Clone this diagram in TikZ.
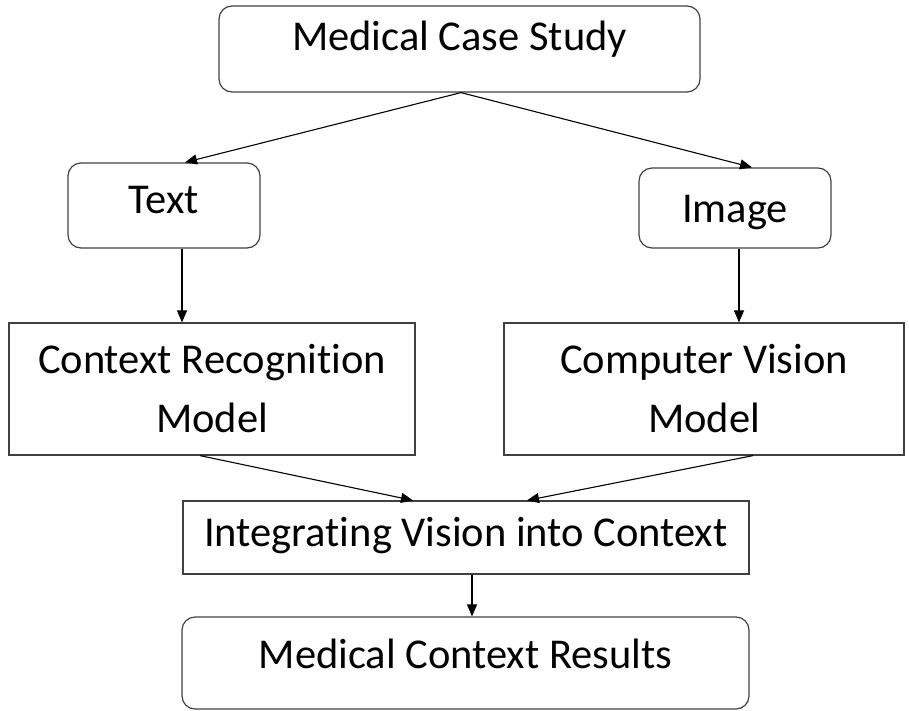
\documentclass[tikz,border=0pt]{standalone}
\usepackage{fontspec}
\setmainfont{Carlito}[Ligatures=CommonOff]
\usetikzlibrary{arrows.meta}

\begin{document}
\begin{tikzpicture}[x=1pt, y=-1pt,
    box/.style={draw=black!75, line width=1.2pt, inner sep=0pt, font=\fontsize{42.5}{59}\selectfont},
    roundbox/.style={box, rounded corners=13pt},
    link/.style={line width=1.1pt, -{Triangle[length=12pt, width=10pt]}}]
    \useasboundingbox (0,0) rectangle (909,710);

    % Draw the input boxes
    \node[roundbox, anchor=base, minimum width=481pt, text height=44pt, text depth=42pt] (case) at (459.5,50) {Medical Case Study};
    \node[roundbox, anchor=base, minimum width=192pt, text height=50pt, text depth=35pt] (text) at (164,213) {Text};
    \node[roundbox, anchor=base, minimum width=192pt, text height=54pt, text depth=26pt] (image) at (735,222) {Image};

    % Draw the two models
    \node[box, align=center, minimum width=406pt, minimum height=132pt] (context) at (212,389) {Context Recognition\\Model};
    \node[box, align=center, minimum width=400pt, minimum height=132pt] (vision) at (704,389) {Computer Vision\\Model};

    % Draw the integration and result boxes
    \node[box, anchor=base, minimum width=566pt, text height=45pt, text depth=28pt] (integ) at (466,546) {Integrating Vision into Context};
    \node[roundbox, anchor=base, minimum width=567pt, text height=51pt, text depth=41pt] (result) at (465.5,668) {Medical Context Results};

    % Draw the arrows
    \draw[link] ([xshift=1.5pt]case.south) -- ([xshift=21pt]text.north);
    \draw[link] ([xshift=1.5pt]case.south) -- ([xshift=17pt]image.north);
    \draw[link] ([xshift=18pt]text.south) -- ([xshift=18pt]text.south |- context.north);
    \draw[link] ([xshift=4pt]image.south) -- ([xshift=4pt]image.south |- vision.north);
    \draw[link] ([xshift=-12pt]context.south) -- ([xshift=-53pt]integ.north);
    \draw[link] ([xshift=49pt]vision.south) -- ([xshift=61pt]integ.north);
    \draw[link] ([xshift=6pt]integ.south) -- ([xshift=6pt]integ.south |- result.north);

\end{tikzpicture}
\end{document}
